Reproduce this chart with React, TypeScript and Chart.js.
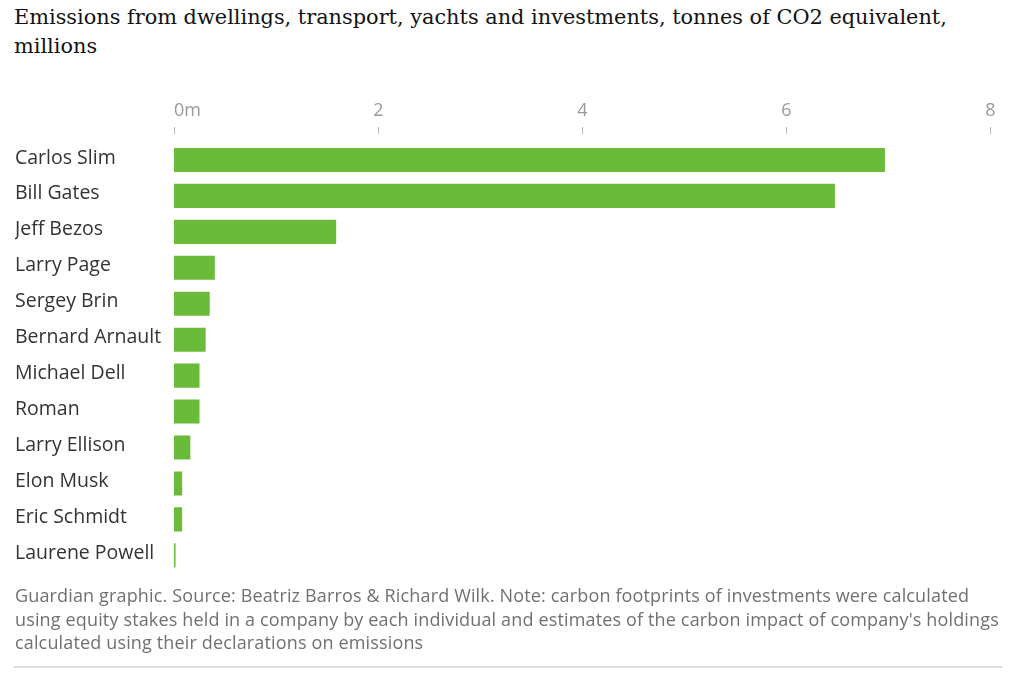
import React, { useEffect, useRef } from "react";
import { Chart, registerables } from "chart.js";

Chart.register(...registerables);

const titleLines = [
  "Emissions from dwellings, transport, yachts and investments, tonnes of CO2 equivalent,",
  "millions",
];

const names = [
  "Carlos Slim",
  "Bill Gates",
  "Jeff Bezos",
  "Larry Page",
  "Sergey Brin",
  "Bernard Arnault",
  "Michael Dell",
  "Roman",
  "Larry Ellison",
  "Elon Musk",
  "Eric Schmidt",
  "Laurene Powell",
];

const emissions = [6.97, 6.48, 1.59, 0.4, 0.35, 0.31, 0.25, 0.25, 0.16, 0.08, 0.08, 0.015];

const tickValues = [0, 2, 4, 6, 8];
const tickLabels = ["0m", "2", "4", "6", "8"];

const footerLines = [
  "Guardian graphic. Source: Beatriz Barros & Richard Wilk. Note: carbon footprints of investments were calculated",
  "using equity stakes held in a company by each individual and estimates of the carbon impact of company's holdings",
  "calculated using their declarations on emissions",
];

const SANS = "'Open Sans', 'Noto Sans', sans-serif";

export default function App() {
  const canvasRef = useRef<HTMLCanvasElement | null>(null);

  useEffect(() => {
    if (!canvasRef.current) return;
    const topAxisPlugin = {
      id: "topAxis",
      afterDraw(chart: any) {
        const xs = chart.scales.x;
        const ctx = chart.ctx;
        ctx.save();
        ctx.font = `18px ${SANS}`;
        ctx.fillStyle = "#999999";
        ctx.strokeStyle = "#bbbbbb";
        ctx.lineWidth = 1;
        ctx.textBaseline = "middle";
        tickValues.forEach((v, i) => {
          const px = Math.round(xs.getPixelForValue(v)) + 0.5;
          ctx.beginPath();
          ctx.moveTo(px, 37);
          ctx.lineTo(px, 44);
          ctx.stroke();
          ctx.textAlign = i === 0 ? "left" : "center";
          ctx.fillText(tickLabels[i], i === 0 ? px - 0.5 : px, 21);
        });
        ctx.restore();
      },
    };
    const chart = new Chart(canvasRef.current, {
      type: "bar",
      data: {
        labels: names,
        datasets: [
          {
            data: emissions,
            backgroundColor: "#6bbb3a",
            borderWidth: 0,
            barPercentage: 0.67,
            categoryPercentage: 1,
          },
        ],
      },
      options: {
        indexAxis: "y",
        animation: false,
        responsive: true,
        maintainAspectRatio: false,
        layout: { padding: { top: 52, left: 15, right: 34, bottom: 0 } },
        plugins: { legend: { display: false }, tooltip: { enabled: false } },
        scales: {
          x: { min: 0, max: 8, display: false },
          y: {
            grid: { display: false },
            border: { display: false },
            ticks: {
              color: "#333333",
              font: { family: SANS, size: 19.5 },
              crossAlign: "far",
              padding: 0,
              labelOffset: -2,
            },
            afterFit(scale: any) {
              scale.width = 159;
            },
          },
        },
      },
      plugins: [topAxisPlugin],
    });
    return () => chart.destroy();
  }, []);

  return (
    <div style={{ position: "absolute", left: 0, top: 0, width: 1024, height: 675, background: "#fff" }}>
      <div
        style={{
          position: "absolute",
          left: 14,
          top: 3,
          fontFamily: "'DejaVu Serif', serif",
          fontSize: 20.85,
          lineHeight: "29px",
          color: "#121212",
          whiteSpace: "nowrap",
        }}
      >
        {titleLines.map((l, i) => (
          <div key={i}>{l}</div>
        ))}
      </div>
      <div style={{ position: "absolute", left: 0, top: 90, width: 1024, height: 495 }}>
        <canvas ref={canvasRef} />
      </div>
      <div
        style={{
          position: "absolute",
          left: 15,
          top: 584,
          fontFamily: SANS,
          fontSize: 18,
          letterSpacing: "0.15px",
          lineHeight: "23.5px",
          color: "#707070",
          whiteSpace: "nowrap",
        }}
      >
        {footerLines.map((l, i) => (
          <div key={i}>{l}</div>
        ))}
      </div>
      <div style={{ position: "absolute", left: 14, top: 666, width: 988, height: 2, background: "#dcdcdc" }} />
    </div>
  );
}
